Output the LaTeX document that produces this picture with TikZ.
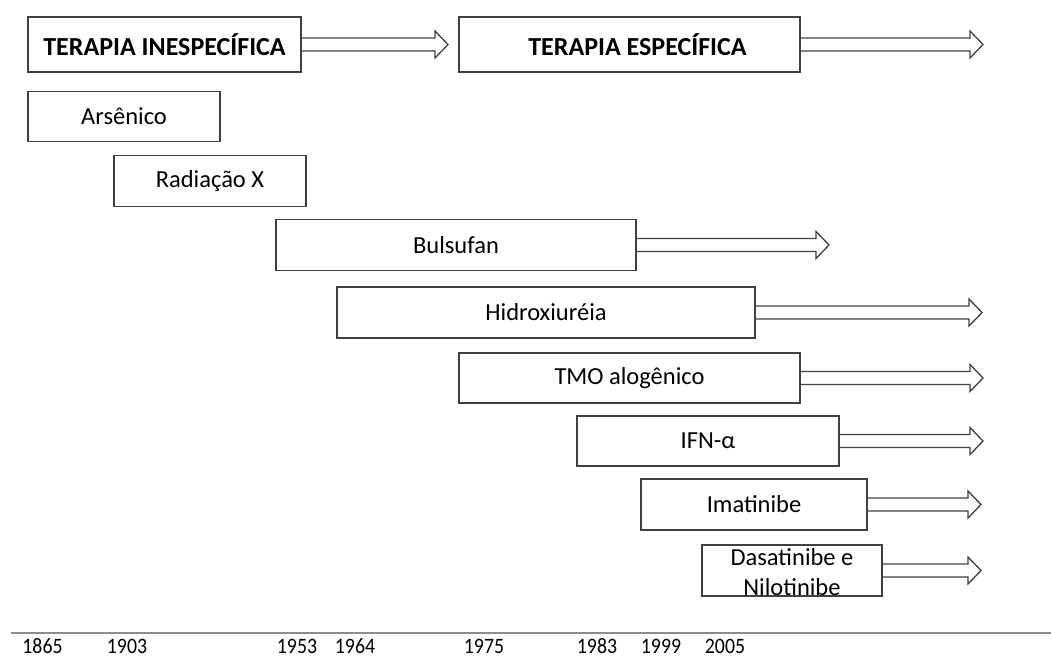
\documentclass[tikz,border=0pt]{standalone}
\usepackage{fontspec}
\setmainfont{Carlito}[Numbers=Lining]
\usetikzlibrary{calc}
\definecolor{linegray}{HTML}{404040}
\definecolor{axisgray}{HTML}{8C8C8C}
\tikzset{
  box/.style={draw=linegray, line width=1.3pt, fill=white, inner sep=0pt,
    minimum height=51pt, text=black, font=\fontsize{24.5}{30}\selectfont},
  titlebox/.style={box, minimum height=55pt, font=\fontsize{26}{30}\selectfont\bfseries},
  arrowline/.style={draw=linegray, line width=1.3pt, line join=miter},
  year/.style={font=\fontsize{22}{26}\selectfont, inner sep=0pt, text=black, anchor=base, xscale=0.9},
  axisline/.style={draw=axisgray, line width=2pt},
}
\newcommand\tlarrow[2]{\draw[arrowline] let \p1=(#1.east), \p2=(#2) in
  (\x1,\y1+6.5pt) -- (\x2-13pt,\y1+6.5pt) -- (\x2-13pt,\y1+13.5pt) -- (\x2,\y1)
  -- (\x2-13pt,\y1-13.5pt) -- (\x2-13pt,\y1-6.5pt) -- (\x1,\y1-6.5pt);}
\begin{document}
\begin{tikzpicture}[x=1pt,y=-1pt]
\useasboundingbox (0,0) rectangle (1051,657);
% arrow tips
\coordinate (e1) at (448,0);
\coordinate (e2) at (983,0);
\coordinate (ebul) at (829,0);
\coordinate (ehid) at (982,0);
\coordinate (etmo) at (983,0);
\coordinate (eifn) at (983,0);
\coordinate (eima) at (981,0);
\coordinate (edas) at (981,0);
% boxes
\node[titlebox, minimum width=273pt] (b1) at (164.5,44.5) {TERAPIA INESPECÍFICA};
\node[titlebox, minimum width=341pt] (b2) at (629.5,44.5) {\hspace*{16pt}TERAPIA ESPECÍFICA};
\node[box, minimum width=192pt, minimum height=50pt] (ars) at (124,116.5) {Arsênico};
\node[box, minimum width=192pt] (rad) at (210,181) {Radiação X};
\node[box, minimum width=360pt] (bul) at (456,245) {Bulsufan};
\node[box, minimum width=418pt] (hid) at (546,312.5) {Hidroxiuréia};
\node[box, minimum width=341pt, minimum height=50pt] (tmo) at (629.5,378) {TMO alogênico};
\node[box, minimum width=262pt, minimum height=50pt] (ifn) at (708,441) {IFN-α};
\node[box, minimum width=226pt] (ima) at (754,504.5) {Imatinibe};
\node[box, minimum width=180pt] (das) at (792,570.5) {};
\node[align=center, inner sep=0pt, font=\fontsize{24.5}{30}\selectfont] (dastxt) at (792,572) {Dasatinibe e\\Nilotinibe};
% arrows
\tlarrow{b1}{e1}
\tlarrow{b2}{e2}
\tlarrow{bul}{ebul}
\tlarrow{hid}{ehid}
\tlarrow{tmo}{etmo}
\tlarrow{ifn}{eifn}
\tlarrow{ima}{eima}
\tlarrow{das}{edas}
% axis
\coordinate (ax0) at (11,632.5);
\coordinate (ax1) at (1051,632.5);
\draw[axisline] (ax0) -- (ax1);
\node[year] (y1865) at (42.5,653) {1865};
\node[year] (y1903) at (127,653) {1903};
\node[year] (y1953) at (297,653) {1953};
\node[year] (y1964) at (355,653) {1964};
\node[year] (y1975) at (484,653) {1975};
\node[year] (y1983) at (597,653) {1983};
\node[year] (y1999) at (661,653) {1999};
\node[year] (y2005) at (725,653) {2005};
\end{tikzpicture}
\end{document}
